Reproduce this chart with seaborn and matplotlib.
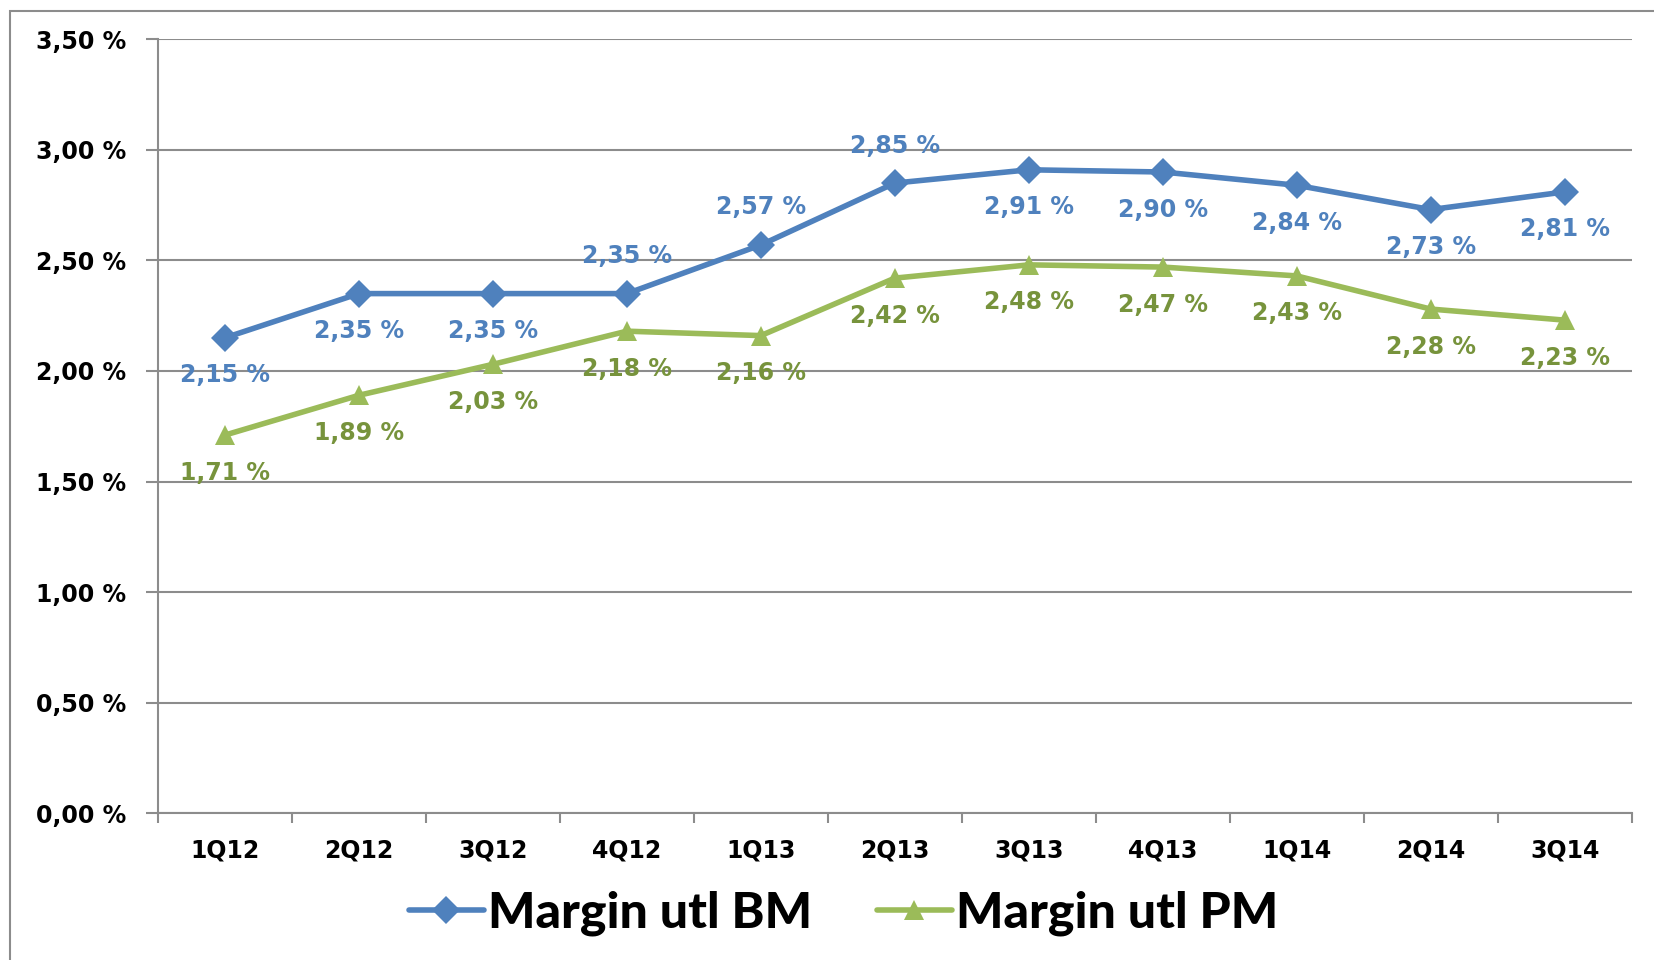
import seaborn as sns
import matplotlib
matplotlib.use("Agg")
import matplotlib.pyplot as plt
import pandas as pd
from matplotlib.ticker import FuncFormatter, FixedLocator
from matplotlib.patches import Rectangle

quarters = ["1Q12", "2Q12", "3Q12", "4Q12", "1Q13", "2Q13", "3Q13", "4Q13", "1Q14", "2Q14", "3Q14"]
margin_bm = [2.15, 2.35, 2.35, 2.35, 2.57, 2.85, 2.91, 2.90, 2.84, 2.73, 2.81]
margin_pm = [1.71, 1.89, 2.03, 2.18, 2.16, 2.42, 2.48, 2.47, 2.43, 2.28, 2.23]
series_names = ["Margin utl BM", "Margin utl PM"]
# where the value label sits relative to the point
bm_label_side = ["below", "below", "below", "above", "above", "above",
                 "below", "below", "below", "below", "below"]
pm_label_side = ["below"] * len(quarters)

blue, green = "#4F81BD", "#9BBB59"
blue_txt, green_txt = "#4F81BD", "#77933C"

df = pd.DataFrame({
    "quarter": quarters * 2,
    "value": margin_bm + margin_pm,
    "series": [series_names[0]] * len(quarters) + [series_names[1]] * len(quarters),
})

sns.set_theme(style="white")
plt.rcParams["font.family"] = ["DejaVu Sans"]
plt.rcParams["text.color"] = "black"

fig = plt.figure(figsize=(16.54, 9.6), dpi=100)
ax = fig.add_axes([0.0955, 0.153, 0.891, 0.806])

sns.lineplot(data=df, x="quarter", y="value", hue="series", style="series",
             markers={series_names[0]: "D", series_names[1]: "^"}, dashes=False,
             palette={series_names[0]: blue, series_names[1]: green},
             linewidth=4, markersize=14, markeredgewidth=0, ax=ax, legend=True)

ax.set_ylim(0, 3.5)
ax.set_xlim(-0.5, len(quarters) - 0.5)
ax.set_yticks([0, 0.5, 1.0, 1.5, 2.0, 2.5, 3.0, 3.5])
ax.yaxis.set_major_formatter(FuncFormatter(lambda v, p: f"{v:.2f} %".replace(".", ",")))
ax.yaxis.grid(True, color="#8C8C8C", linewidth=1.5)
ax.set_axisbelow(True)
ax.set_xlabel("")
ax.set_ylabel("")

for s in ["top", "right"]:
    ax.spines[s].set_visible(False)
for s in ["left", "bottom"]:
    ax.spines[s].set_color("#8C8C8C")
    ax.spines[s].set_linewidth(1.5)

ax.tick_params(axis="y", left=True, length=9, width=1.5, color="#8C8C8C",
               labelsize=17, pad=14, labelcolor="black")
ax.tick_params(axis="x", bottom=False, labelsize=17, pad=12, labelcolor="black")
ax.xaxis.set_minor_locator(FixedLocator([i - 0.5 for i in range(len(quarters) + 1)]))
ax.tick_params(axis="x", which="minor", bottom=True, length=7, width=1.5,
               color="#8C8C8C", direction="out")
for lbl in ax.get_xticklabels() + ax.get_yticklabels():
    lbl.set_fontweight("bold")

def put_labels(vals, sides, color):
    for i, (v, side) in enumerate(zip(vals, sides)):
        dy = 27 if side == "above" else -27
        ax.annotate(f"{v:.2f} %".replace(".", ","), (i, v), xytext=(0, dy),
                    textcoords="offset points", ha="center", va="center",
                    fontsize=17, fontweight="bold", color=color)

put_labels(margin_bm, bm_label_side, blue_txt)
put_labels(margin_pm, pm_label_side, green_txt)

handles, labels = ax.get_legend_handles_labels()
leg = ax.legend(handles, labels, loc="center", bbox_to_anchor=(0.465, -0.13),
                ncol=2, frameon=False, handlelength=1.5, columnspacing=1.3,
                handletextpad=0.08,
                prop={"family": ["Lato", "DejaVu Sans"],
                      "weight": 900, "size": 36})
for t in leg.get_texts():
    t.set_color("black")

# outer chart border
fig.patches.append(Rectangle((0.006, -0.05), 1.1, 1.0385, transform=fig.transFigure,
                             fill=False, edgecolor="#8C8C8C", linewidth=1.5))

plt.savefig("out.png", dpi=100)
